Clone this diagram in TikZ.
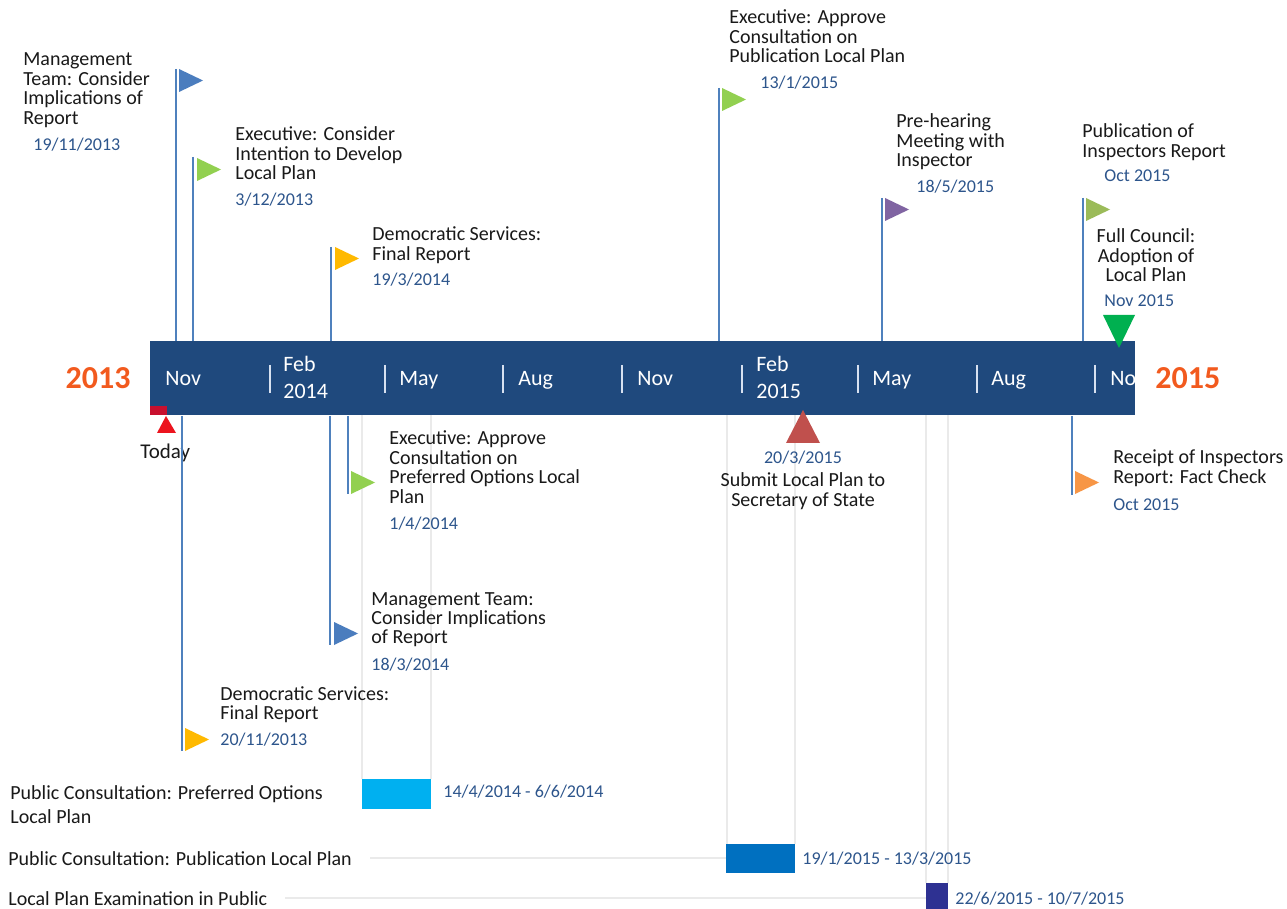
\documentclass[tikz,border=0pt]{standalone}
\usepackage{fontspec}
\setmainfont{Carlito}
\definecolor{barblue}{RGB}{31,73,125}
\definecolor{polec}{RGB}{79,129,189}
\definecolor{fblue}{RGB}{75,125,190}
\definecolor{fgreen}{RGB}{146,208,80}
\definecolor{famber}{RGB}{255,185,0}
\definecolor{fpurple}{RGB}{128,100,162}
\definecolor{folive}{RGB}{155,187,89}
\definecolor{forange}{RGB}{247,150,70}
\definecolor{fred}{RGB}{192,80,77}
\definecolor{fcouncil}{RGB}{0,176,80}
\definecolor{yearc}{RGB}{242,90,30}
\definecolor{datec}{RGB}{45,85,140}
\definecolor{txtc}{RGB}{25,25,25}
\definecolor{gridc}{RGB}{234,234,234}
\definecolor{gcyan}{RGB}{0,176,240}
\definecolor{gblue}{RGB}{0,112,192}
\definecolor{gindigo}{RGB}{46,49,146}
\definecolor{todayred}{RGB}{200,16,46}
\definecolor{todaytri}{RGB}{236,20,30}
\definecolor{tickc}{RGB}{215,225,240}
\tikzset{
  lbl/.style={font=\fontsize{10}{9.75}\selectfont, align=left, anchor=base west, inner sep=0pt, text=txtc},
  lblc/.style={lbl, align=center, anchor=base},
  datel/.style={font=\fontsize{9}{10}\selectfont, anchor=base west, inner sep=0pt, text=datec},
  mon/.style={font=\fontsize{11}{11}\selectfont, anchor=base west, inner sep=0pt, text=white},
  year/.style={font=\fontsize{16}{16}\selectfont\bfseries, inner sep=0pt, text=yearc},
  pole/.style={draw=polec, line width=1.25pt},
  tickline/.style={draw=tickc, line width=0.8pt},
  gridline/.style={draw=gridc, line width=0.6pt},
}
\begin{document}
\begin{tikzpicture}[x=0.5pt,y=-0.5pt]
\useasboundingbox[fill=white] (0,0) rectangle (1287,909);
% faint grid lines
\draw[gridline] (362,415) -- (362,779);
\draw[gridline] (431,415) -- (431,779);
\draw[gridline] (727,415) -- (727,844);
\draw[gridline] (795,415) -- (795,844);
\draw[gridline] (926,415) -- (926,883);
\draw[gridline] (948,415) -- (948,883);
\draw[gridline] (370,858) -- (726,858);
\draw[gridline] (285,898) -- (926,898);
% main bar
\node[fill=barblue, minimum width=492.5pt, minimum height=37pt, inner sep=0pt, anchor=north west] (bar) at (150,341) {};
\begin{scope}
\clip (bar.south west) rectangle (bar.north east);
\node[mon] (m1) at (165,386) {Nov};
\node[mon] (m2) at (283,372) {Feb};
\node[mon] (m2b) at (283,399) {2014};
\node[mon] (m3) at (399,386) {May};
\node[mon] (m4) at (518,386) {Aug};
\node[mon] (m5) at (637,386) {Nov};
\node[mon] (m6) at (756,372) {Feb};
\node[mon] (m6b) at (756,399) {2015};
\node[mon] (m7) at (872,386) {May};
\node[mon] (m8) at (991,386) {Aug};
\node[mon] (m9) at (1110,386) {Nov};
\foreach \x in {270,385,503,622,742,858,977,1095}
  \draw[tickline] (\x,365) -- (\x,393);
\end{scope}
\node[year, anchor=base east] (y1) at (131,389) {2013};
\node[year, anchor=base west] (y2) at (1155,389) {2015};
% today
\fill[todayred] (150,406) rectangle (167,415);
\fill[todaytri] (157,433) -- (176,433) -- (166,416) -- cycle;
\node[lbl, font=\fontsize{10.5}{10.5}\selectfont] (today) at (140,459) {Today};
% ---- flags above ----
\coordinate (p1) at (176,69);
\draw[pole] (p1) -- (p1 |- bar.north);
\fill[fblue] (179,69) -- (203,80.5) -- (179,92) -- cycle;
\node[lbl] (t1) at (23,124.5) {Management\\Team: Consider\\Implications of\\Report};
\node[datel] (d1) at (33,151) {19/11/2013};

\coordinate (p2) at (193,157);
\draw[pole] (p2) -- (p2 |- bar.north);
\fill[fgreen] (197,158) -- (221,169.5) -- (197,181) -- cycle;
\node[lbl] (t2) at (235,180) {Executive: Consider\\Intention to Develop\\Local Plan};
\node[datel] (d2) at (235,206) {3/12/2013};

\coordinate (p3) at (331,247);
\draw[pole] (p3) -- (p3 |- bar.north);
\fill[famber] (335,247) -- (359,258.5) -- (335,270) -- cycle;
\node[lbl] (t3) at (372,260.5) {Democratic Services:\\Final Report};
\node[datel] (d3) at (372,286) {19/3/2014};

\coordinate (p4) at (719,88);
\draw[pole] (p4) -- (p4 |- bar.north);
\fill[fgreen] (722,88) -- (746,99.5) -- (722,111) -- cycle;
\node[lbl] (t4) at (729,63) {Executive: Approve\\Consultation on\\Publication Local Plan};
\node[datel] (d4) at (760,89) {13/1/2015};

\coordinate (p5) at (882,198);
\draw[pole] (p5) -- (p5 |- bar.north);
\fill[fpurple] (885,198) -- (909,209.5) -- (885,221) -- cycle;
\node[lbl] (t5) at (896,167) {Pre-hearing\\Meeting with\\Inspector};
\node[datel] (d5) at (916,193) {18/5/2015};

\coordinate (p6) at (1083,198);
\draw[pole] (p6) -- (p6 |- bar.north);
\fill[folive] (1086,198) -- (1110,209.5) -- (1086,221) -- cycle;
\node[lbl] (t6) at (1082,157.5) {Publication of\\Inspectors Report};
\node[datel] (d6) at (1104,182) {Oct 2015};

\fill[fcouncil] (1103,315) -- (1135,315) -- (1119,348) -- cycle;
\node[lblc] (t7) at (1146,282) {Full Council:\\Adoption of\\Local Plan};
\node[datel] (d7) at (1104,307) {Nov 2015};
% ---- flags below ----
\coordinate (q1) at (182,751);
\draw[pole] (q1 |- bar.south) -- (q1);
\fill[famber] (185,728) -- (209,739.5) -- (185,751) -- cycle;
\node[lbl] (t8) at (220,719.5) {Democratic Services:\\Final Report};
\node[datel] (d8) at (220,745) {20/11/2013};

\coordinate (q2) at (330,645);
\draw[pole] (q2 |- bar.south) -- (q2);
\fill[fblue] (334,622) -- (358,633.5) -- (334,645) -- cycle;
\node[lbl] (t9) at (371,644) {Management Team:\\Consider Implications\\of Report};
\node[datel] (d9) at (371,670) {18/3/2014};

\coordinate (q3) at (348,494);
\draw[pole] (q3 |- bar.south) -- (q3);
\fill[fgreen] (351,471) -- (375,482.5) -- (351,494) -- cycle;
\node[lbl] (t10) at (389,503.5) {Executive: Approve\\Consultation on\\Preferred Options Local\\Plan};
\node[datel] (d10) at (389,530) {1/4/2014};

\coordinate (q4) at (1072,495);
\draw[pole] (q4 |- bar.south) -- (q4);
\fill[forange] (1075,471) -- (1099,482.5) -- (1075,494) -- cycle;
\node[lbl] (t11) at (1113,483.5) {Receipt of Inspectors\\Report: Fact Check};
\node[datel] (d11) at (1113,510) {Oct 2015};

\fill[fred] (786,443) -- (820,443) -- (803,410) -- cycle;
\node[datel, anchor=base] (d12) at (803,464) {20/3/2015};
\node[lblc] (t12) at (803,506.5) {Submit Local Plan to\\Secretary of State};
% ---- gantt ----
\node[lbl, font=\fontsize{10}{12}\selectfont] (g1) at (10,823) {Public Consultation: Preferred Options\\Local Plan};
\node[lbl] (g2) at (8,865) {Public Consultation: Publication Local Plan};
\node[lbl] (g3) at (8,905) {Local Plan Examination in Public};
\fill[gcyan] (362,779) rectangle (431,809);
\fill[gblue] (726,844) rectangle (795,873);
\fill[gindigo] (926,883) rectangle (948,909);
\node[datel] (gd1) at (443,797) {14/4/2014 - 6/6/2014};
\node[datel] (gd2) at (802,864) {19/1/2015 - 13/3/2015};
\node[datel] (gd3) at (955,904) {22/6/2015 - 10/7/2015};
\end{tikzpicture}
\end{document}
